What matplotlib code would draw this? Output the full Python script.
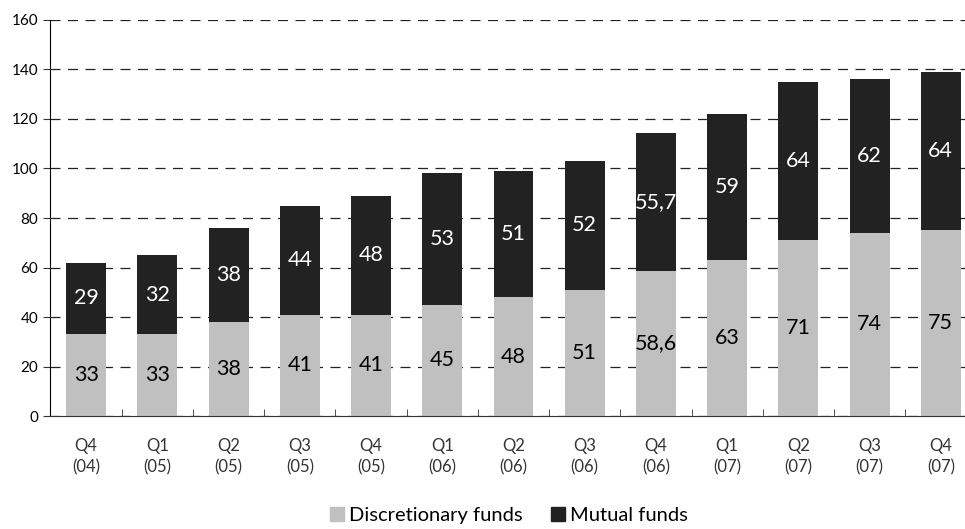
import matplotlib
matplotlib.use("Agg")
import matplotlib.pyplot as plt
import numpy as np
from matplotlib.patches import Patch

plt.rcParams['font.family'] = ['Lato', 'DejaVu Sans']

quarters = ["Q4\n(04)", "Q1\n(05)", "Q2\n(05)", "Q3\n(05)", "Q4\n(05)", "Q1\n(06)", "Q2\n(06)",
            "Q3\n(06)", "Q4\n(06)", "Q1\n(07)", "Q2\n(07)", "Q3\n(07)", "Q4\n(07)"]
discretionary = [33, 33, 38, 41, 41, 45, 48, 51, 58.6, 63, 71, 74, 75]
mutual = [29, 32, 38, 44, 48, 53, 51, 52, 55.7, 59, 64, 62, 64]
disc_labels = ["33", "33", "38", "41", "41", "45", "48", "51", "58,6", "63", "71", "74", "75"]
mut_labels = ["29", "32", "38", "44", "48", "53", "51", "52", "55,7", "59", "64", "62", "64"]

gray = "#c0c0c0"
dark = "#222222"

fig = plt.figure(figsize=(9.65, 5.29), dpi=100)
ax = fig.add_axes([0.052, 0.2136, 0.948, 0.7486])

x = np.arange(len(quarters))
w = 0.56
ax.bar(x, discretionary, width=w, color=gray, zorder=2)
ax.bar(x, mutual, width=w, bottom=discretionary, color=dark, zorder=2)

for i in range(len(x)):
    ax.text(x[i], discretionary[i] / 2, disc_labels[i], ha='center', va='center',
            fontsize=15.5, color='black', zorder=3)
    ax.text(x[i], discretionary[i] + mutual[i] / 2, mut_labels[i], ha='center', va='center',
            fontsize=15.5, color='white', zorder=3)

ax.set_ylim(0, 160)
ax.set_xlim(-0.505, 12.34)
ax.set_yticks(np.arange(0, 161, 20))
ax.yaxis.grid(True, linestyle=(0, (8, 6)), color='#222222', linewidth=0.9, zorder=0)
ax.set_axisbelow(True)
ax.set_xticks(x)
ax.set_xticklabels(quarters, fontsize=12, color='#333333', linespacing=1.35)
ax.set_xticks(np.arange(0.5, len(x) - 0.5, 1), minor=True)
ax.tick_params(axis='x', which='major', length=0, pad=16)
ax.tick_params(axis='x', which='minor', length=5, direction='in', color='#333333')
ax.tick_params(axis='y', length=5, labelsize=11, color='#333333')
for s in ['top', 'right']:
    ax.spines[s].set_visible(False)
ax.spines['left'].set_color('black')
ax.spines['bottom'].set_color('#333333')

handles = [Patch(color=gray, label="Discretionary funds"), Patch(color=dark, label="Mutual funds")]
fig.legend(handles=handles, loc='lower center', bbox_to_anchor=(0.527, -0.025), ncol=2,
           frameon=False, fontsize=14.5, handlelength=0.7, handleheight=0.7,
           handletextpad=0.25, columnspacing=1.4)

fig.savefig("out.png", dpi=100)
